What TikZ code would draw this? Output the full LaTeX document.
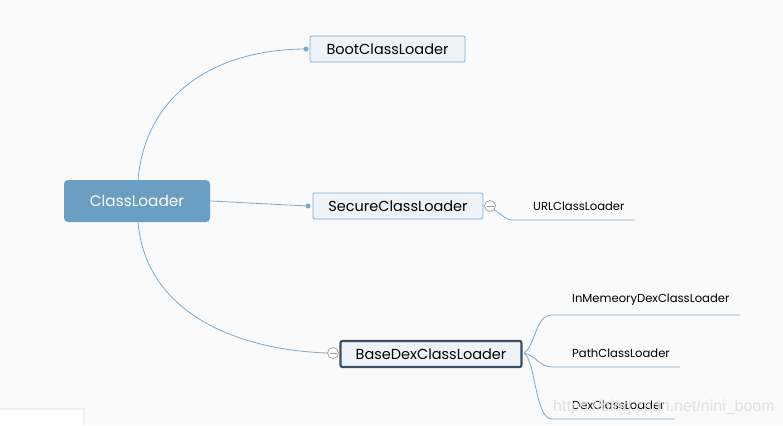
\documentclass[tikz,border=0pt]{standalone}
\usepackage{fontspec}
\setmainfont{Poppins}
\newfontfamily\wmfont{Liberation Sans}
\definecolor{bg}{HTML}{FAFAFB}
\definecolor{rootfill}{HTML}{6A9FC3}
\definecolor{boxfill}{HTML}{EEF3F8}
\definecolor{boxline}{HTML}{7FAACB}
\definecolor{linec}{HTML}{7FA9C9}
\definecolor{darkb}{HTML}{3B5064}
\definecolor{circ}{HTML}{9A9A9A}
\tikzset{
  rootbox/.style={draw=none, fill=rootfill, rounded corners=4pt, text=white, font=\fontsize{15.3}{18}\selectfont, minimum width=146pt, minimum height=42pt, inner sep=0pt},
  childbox/.style={draw=boxline, line width=0.7pt, fill=boxfill, rounded corners=2pt, font=\fontsize{14.5}{17}\selectfont, minimum height=26pt, inner sep=0pt},
  selbox/.style={draw=darkb, line width=2.2pt, fill=boxfill, rounded corners=2pt, font=\fontsize{14.5}{17}\selectfont, minimum height=26pt, inner sep=0pt},
  leaf/.style={font=\fontsize{11.6}{14}\selectfont, inner sep=0pt, anchor=west},
  conn/.style={draw=linec, line width=0.8pt},
  dot/.style={circle, fill=linec, inner sep=0pt, minimum size=5pt},
  fold/.style={circle, draw=circ, fill=white, line width=0.7pt, inner sep=0pt, minimum size=11pt},
}
\begin{document}
\begin{tikzpicture}[x=1pt,y=-1pt]
\useasboundingbox (0,0) rectangle (783,425);
\fill[bg] (0,0) rectangle (783,425);
% bottom-left white panel
\fill[black!6] (0,408) rectangle (85,425);
\fill[white] (0,410) rectangle (83,425);

\node[rootbox] (root) at (137,201) {ClassLoader};
\node[childbox, minimum width=155pt] (boot) at (387.5,49) {BootClassLoader};
\node[childbox, minimum width=170pt] (secure) at (398,206) {SecureClassLoader};
\node[selbox, minimum width=181pt] (base) at (431,354) {BaseDexClassLoader};

\node[dot] (dboot) at (306,49) {};
\node[dot] (dsec) at (308,206) {};
\node[fold] (fsec) at (490,206) {};
\draw[circ, line width=0.7pt] ([xshift=-3.5pt]fsec.center) -- ([xshift=3.5pt]fsec.center);
\node[fold] (fbase) at (333,353) {};
\draw[circ, line width=0.7pt] ([xshift=-3.5pt]fbase.center) -- ([xshift=3.5pt]fbase.center);

\coordinate (rtop) at (138,180);
\coordinate (rbot) at (138,222);
\draw[conn] (rtop) .. controls (146,90) and (220,49) .. (dboot.center);
\draw[conn] (root.east) -- (dsec.center);
\draw[conn] (rbot) .. controls (146,315) and (240,350) .. (fbase.west);

% URL leaf
\node[leaf] (url) at (533,206) {URLClassLoader};
\coordinate (us) at (513,220);
\coordinate (ue) at (635,220);
\draw[conn] (fsec.south east) .. controls (502,214) and (505,220) .. (us) -- (ue);

% BaseDex leaves
\node[leaf] (inm) at (572,300) {InMemeoryDexClassLoader};
\node[leaf] (path) at (572,353) {PathClassLoader};
\node[leaf] (dex) at (572,405) {DexClassLoader};
\coordinate (is) at (552,315); \coordinate (ie) at (740,315);
\coordinate (ps) at (552,367); \coordinate (pe) at (680,367);
\coordinate (ds) at (552,419); \coordinate (de) at (675,419);
\coordinate (bo) at (524,353);
\draw[conn] (bo) .. controls (536,345) and (535,315) .. (is) -- (ie);
\draw[conn] (bo) .. controls (536,356) and (540,367) .. (ps) -- (pe);
\draw[conn] (bo) .. controls (536,362) and (535,419) .. (ds) -- (de);

% watermark
\node[font=\fontsize{16}{18}\selectfont\wmfont, text=black!12, anchor=west, inner sep=0pt] (wm) at (553,407) {https://blog.csdn.net/nini\_boom};
\end{tikzpicture}
\end{document}
